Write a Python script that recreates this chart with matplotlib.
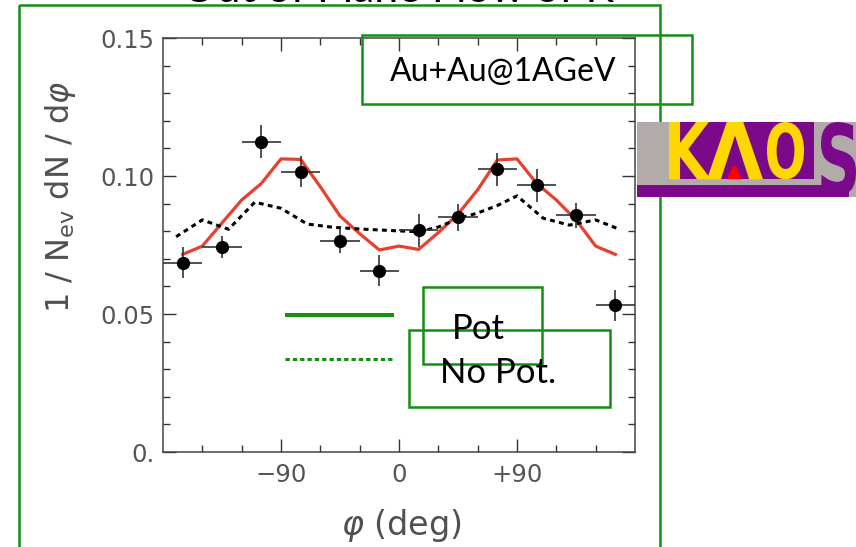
import numpy as np
import matplotlib
matplotlib.use("Agg")
import matplotlib.pyplot as plt
from matplotlib.patches import Rectangle, Polygon, PathPatch
from matplotlib.textpath import TextPath
from matplotlib.font_manager import FontProperties
from matplotlib.transforms import Affine2D

plt.rcParams['mathtext.fontset'] = 'dejavusans'

# measured K+ azimuthal distribution, Au+Au @ 1 AGeV
phi_data = [-165, -135, -105, -75, -45, -15, 15, 45, 75, 105, 135, 165]
dn_data = [0.0686, 0.0744, 0.1124, 0.1016, 0.0766, 0.0657,
           0.0804, 0.0850, 0.1024, 0.0967, 0.0858, 0.0531]
dn_err = [0.0056, 0.0040, 0.0059, 0.0057, 0.0045, 0.0056,
          0.0060, 0.0048, 0.0060, 0.0060, 0.0045, 0.0056]
phi_err = 15

# transport calculation with KN potential
phi_pot = [-165, -150, -135, -120, -105, -90, -75, -60, -45, -30, -15, 0,
           15, 30, 45, 60, 75, 90, 105, 120, 135, 150, 165]
dn_pot = [0.0716, 0.0746, 0.0830, 0.0913, 0.0973, 0.1062, 0.1060, 0.0961,
          0.0855, 0.0791, 0.0732, 0.0746, 0.0734, 0.0795, 0.0862, 0.0950,
          0.1058, 0.1062, 0.0973, 0.0913, 0.0841, 0.0746, 0.0716]

# transport calculation without potential
phi_nopot = [-170, -150, -130, -110, -90, -70, -50, -30, 0, 15, 30, 45,
             60, 75, 90, 110, 130, 150, 168]
dn_nopot = [0.0780, 0.0841, 0.0807, 0.0905, 0.0883, 0.0826, 0.0814,
            0.0808, 0.0801, 0.0798, 0.0815, 0.0845, 0.0866, 0.0893,
            0.0928, 0.0847, 0.0822, 0.0841, 0.0807]

xticks = [-90, 0, 90]
xticklabels = ['\u221290', '0', '+90']
yticks = [0.0, 0.05, 0.10, 0.15]
yticklabels = ['0.', '0.05', '0.10', '0.15']

W, H = 856, 547
green = '#119011'
gray_txt = '#555555'

fig = plt.figure(figsize=(W / 100, H / 100), dpi=100)
ax = fig.add_axes([163 / W, (H - 452) / H, 472 / W, 414 / H])

ax.plot(phi_pot, dn_pot, color='#e8402f', lw=2.3, zorder=3)
ax.plot(phi_nopot, dn_nopot, color='black', lw=2.2,
        linestyle=(0, (1.6, 1.4)), zorder=3)
ax.errorbar(phi_data, dn_data, xerr=phi_err, yerr=dn_err, fmt='o',
            color='black', ms=8.5, ecolor='#333333', elinewidth=1.2,
            capsize=0, zorder=4)

ax.set_xlim(-180, 180)
ax.set_ylim(0, 0.15)
ax.set_xticks(xticks)
ax.set_xticklabels(xticklabels)
ax.set_xticks(np.arange(-150, 151, 30), minor=True)
ax.set_yticks(yticks)
ax.set_yticklabels(yticklabels)
ax.set_yticks(np.arange(0, 0.151, 0.01), minor=True)
ax.tick_params(which='both', direction='in', top=True, right=True,
               color='#333333', width=1.0)
ax.tick_params(which='major', length=9.5, labelsize=17.5,
               labelcolor=gray_txt, pad=6)
ax.tick_params(which='minor', length=5)
ax.tick_params(axis='x', which='major', pad=8)
for s in ax.spines.values():
    s.set_color('#444444')
    s.set_linewidth(1.1)

ax.set_ylabel(r'1 / N$_{\rm ev}$ dN / d$\varphi$', fontsize=23,
              color='#505050', va='center', ha='center')
ax.yaxis.set_label_coords((60 - 163) / 472, (452 - 197) / 414)
ax.set_xlabel(r'$\varphi$ (deg)', fontsize=24, color='#505050',
              va='center', ha='center')
ax.xaxis.set_label_coords((401 - 163) / 472, (452 - 525) / 414)

# overlay in pixel units for frames, legend keys, labels and logo
ov = fig.add_axes([0, 0, 1, 1], zorder=5)
ov.set_xlim(0, W)
ov.set_ylim(H, 0)
ov.axis('off')
ov.patch.set_alpha(0)

ov.text(398, 2, 'Out of Plane Flow of K', ha='center', va='baseline',
        fontsize=31, family='Lato', color='black')
ov.add_patch(Rectangle((18.7, 4.7), 641.3, 600, fill=False, ec=green, lw=1.8))

ov.add_patch(Rectangle((362, 34.5), 330, 69.5, fill=False, ec=green, lw=1.8))
ov.text(503, 72, 'Au+Au@1AGeV', ha='center', va='center', fontsize=23,
        family='Lato', color='black')

ov.plot([285, 394], [315, 315], color=green, lw=2.9, solid_capstyle='butt')
ov.plot([285, 394], [358.7, 358.7], color=green, lw=2.2,
        linestyle=(0, (1.4, 1.0)))
ov.add_patch(Rectangle((422.7, 286.7), 119.3, 77, fill=False, ec=green, lw=1.8))
ov.add_patch(Rectangle((408.7, 330), 201.3, 76.7, fill=False, ec=green, lw=1.8))
ov.text(478, 329, 'Pot', ha='center', va='center', fontsize=25,
        family='Lato', color='black')
ov.text(498, 373, 'No Pot.', ha='center', va='center', fontsize=25,
        family='Lato', color='black')


def glyph(axo, s, box, color):
    # draw string s stretched into box (x0, top, x1, bottom) in pixels
    tp = TextPath((0, 0), s, size=1,
                  prop=FontProperties(family='DejaVu Sans', weight='bold'))
    bb = tp.get_extents()
    x0, y0, x1, y1 = box
    tr = (Affine2D().translate(-bb.x0, -bb.y0)
          .scale((x1 - x0) / bb.width, -(y1 - y0) / bb.height)
          .translate(x0, y1))
    axo.add_patch(PathPatch(tr.transform_path(tp), fc=color, ec='none'))


# KAOS logo
purple = '#7a0a8a'
yellow = '#ffd700'
ov.add_patch(Rectangle((637, 122), 219, 75, fc='#b3aaaa', ec='none'))
ov.add_patch(Rectangle((637, 185), 212, 12.3, fc=purple, ec='none'))
ov.add_patch(Rectangle((669, 122), 145, 57.3, fc=purple, ec='none'))
glyph(ov, 'K', (669, 122, 711, 179.3), yellow)
glyph(ov, '\u039b', (707, 122, 763, 179.3), yellow)
glyph(ov, 'O', (767, 122, 804, 179.3), yellow)
ov.add_patch(Polygon([(727, 179.3), (742, 179.3), (736, 166), (733, 166)],
                     closed=True, fc='#ff0000', ec='none'))
glyph(ov, 'S', (821, 122, 856, 195), purple)

fig.savefig('out.png', dpi=100)
